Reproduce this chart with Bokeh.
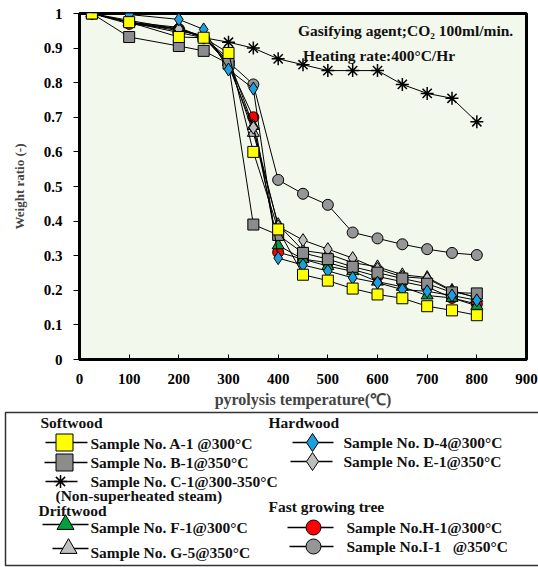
from bokeh.plotting import figure
from bokeh.layouts import column, row
from bokeh.models import Label, FixedTicker, CustomJSTickFormatter
from bokeh.core.properties import value
from bokeh.embed import file_html
from bokeh.resources import INLINE

# ---------------- data ----------------
temps = [25, 100, 200, 250, 300, 350, 400, 450, 500, 550, 600, 650, 700, 750, 800]

A1 = [1.0, 0.975, 0.932, 0.93, 0.886, 0.60, 0.376, 0.245, 0.228, 0.205, 0.188, 0.177, 0.154, 0.142, 0.128]
B1 = [1.0, 0.932, 0.906, 0.892, 0.855, 0.39, 0.36, 0.308, 0.29, 0.268, 0.251, 0.234, 0.219, 0.194, 0.191]
C1 = [1.0, 0.975, 0.945, 0.93, 0.917, 0.90, 0.869, 0.852, 0.835, 0.835, 0.835, 0.795, 0.769, 0.755, 0.687]
D4 = [1.0, 0.997, 0.983, 0.954, 0.838, 0.783, 0.293, 0.273, 0.256, 0.236, 0.222, 0.202, 0.197, 0.185, 0.171]
E1 = [1.0, 0.98, 0.955, 0.935, 0.85, 0.67, 0.385, 0.345, 0.319, 0.293, 0.262, 0.239, 0.234, 0.197, 0.18]
F1 = [1.0, 0.975, 0.96, 0.93, 0.87, 0.675, 0.33, 0.29, 0.27, 0.255, 0.225, 0.21, 0.185, 0.178, 0.155]
G5 = [1.0, 0.975, 0.95, 0.935, 0.86, 0.655, 0.39, 0.315, 0.305, 0.28, 0.268, 0.245, 0.237, 0.20, 0.178]
H1 = [1.0, 0.97, 0.955, 0.93, 0.855, 0.70, 0.31, 0.29, 0.28, 0.26, 0.24, 0.225, 0.21, 0.178, 0.16]
I1 = [1.0, 0.975, 0.955, 0.93, 0.86, 0.795, 0.519, 0.479, 0.447, 0.367, 0.350, 0.333, 0.319, 0.308, 0.302]

x_ticks = [0, 100, 200, 300, 400, 500, 600, 700, 800, 900]
y_ticks = [0, 0.1, 0.2, 0.3, 0.4, 0.5, 0.6, 0.7, 0.8, 0.9, 1]

x_title = "pyrolysis temperature(\u2103)"
y_title = "Weight ratio (-)"
note1 = "Gasifying agent;CO\u2082 100ml/min."
note2 = "Heating rate:400\u00b0C/Hr"

group_titles = ["Softwood", "Driftwood", "Hardwood", "Fast growing tree"]
labels = {
    "A1": "Sample No. A-1 @300\u00b0C",
    "B1": "Sample No. B-1@350\u00b0C",
    "C1": "Sample No. C-1@300-350\u00b0C",
    "D4": "Sample No. D-4@300\u00b0C",
    "E1": "Sample No. E-1@350\u00b0C",
    "F1": "Sample No. F-1@300\u00b0C",
    "G5": "Sample No. G-5@350\u00b0C",
    "H1": "Sample No.H-1@300\u00b0C",
    "I1": "Sample No.I-1\u00a0\u00a0\u00a0@350\u00b0C",
}
c1_note = "(Non-superheated steam)"

FONT = "Liberation Serif"

# series: (key, values, marker, fill, size in plot)
series = [
    ("C1", C1, "asterisk", "black", 13),
    ("I1", I1, "circle", "#969696", 11),
    ("H1", H1, "circle", "#FF0000", 11),
    ("G5", G5, "triangle", "#C0C0C0", 12),
    ("F1", F1, "triangle", "#00A040", 12),
    ("E1", E1, "diamond", "#BEBEBE", 13),
    ("B1", B1, "square", "#8C8C8C", 11),
    ("D4", D4, "diamond", "#1AA0E0", 13),
    ("A1", A1, "square", "#FFFF00", 11),
]

# ---------------- main plot ----------------
p = figure(width=538, height=410, x_range=(0, 900), y_range=(0, 1),
           output_backend="svg", toolbar_location=None,
           min_border_left=79, min_border_right=12, min_border_top=13, min_border_bottom=46,
           background_fill_color="#F3F8EC", border_fill_color="white")
p.grid.visible = False
p.outline_line_color = "black"
p.outline_line_width = 3

for key, vals, mk, fill, sz in series:
    p.line(temps, vals, line_color="black", line_width=1)
    p.scatter(temps, vals, marker=mk, size=sz, fill_color=fill,
              line_color="black", line_width=1.5 if mk == "asterisk" else 1)

xa = p.xaxis[0]
xa.ticker = FixedTicker(ticks=x_ticks)
xa.minor_tick_line_color = None
xa.major_tick_in = 5
xa.major_tick_out = 0
xa.axis_line_width = 3
xa.major_label_standoff = 14
xa.major_label_text_font = FONT
xa.major_label_text_font_style = "bold"
xa.major_label_text_font_size = "15px"
xa.major_label_text_color = "black"
xa.axis_label = x_title
xa.axis_label_text_font = FONT
xa.axis_label_text_font_style = "bold"
xa.axis_label_text_font_size = "16px"
xa.axis_label_standoff = 4

ya = p.yaxis[0]
ya.ticker = FixedTicker(ticks=y_ticks)
ya.formatter = CustomJSTickFormatter(code="return (tick == 0 || tick == 1) ? tick.toFixed(0) : tick.toFixed(1);")
ya.minor_tick_line_color = None
ya.major_tick_in = 0
ya.major_tick_out = 6
ya.axis_line_width = 3
ya.major_label_standoff = 11
ya.major_label_text_font = FONT
ya.major_label_text_font_style = "bold"
ya.major_label_text_font_size = "15px"
ya.major_label_text_color = "black"
ya.axis_label = y_title
ya.axis_label_text_font = FONT
ya.axis_label_text_font_style = "bold"
ya.axis_label_text_font_size = "13px"
ya.axis_label_standoff = 14

for txt, xx, yy in [(note1, 440, 0.952), (note2, 450, 0.880)]:
    p.add_layout(Label(x=xx, y=yy, text=txt, text_font=FONT, text_font_style="bold",
                       text_font_size="15.5px", text_baseline="middle", text_color="#111111"))

# ---------------- legend panel ----------------
L = figure(width=538, height=157, x_range=(0, 538), y_range=(157, 0),
           output_backend="svg", toolbar_location=None, min_border=0,
           min_border_left=0, min_border_right=0, min_border_top=0, min_border_bottom=0,
           x_axis_location=None, y_axis_location=None, outline_line_color=None,
           background_fill_color="white", border_fill_color="white")
L.grid.visible = False
L.quad(left=[5], right=[545], top=[2], bottom=[155], fill_color=None,
       line_color="#333333", line_width=1.5)

# legend layout: key -> (line x0, x1, marker x, y, text x, text y, marker size)
leg_pos = {
    "A1": (45, 87, 64, 32, 90, 33, 17),
    "B1": (44, 87, 64, 52, 90, 52, 17),
    "C1": (45, 77, 60, 71, 90, 71, 13),
    "F1": (42, 88, 65, 114, 90, 117, 17),
    "G5": (52, 88, 68, 138, 90, 142, 17),
    "D4": (292, 333, 312, 32, 343, 32, 18),
    "E1": (290, 332, 312, 51, 343, 51, 18),
    "H1": (287, 333, 313, 117, 346, 117, 15),
    "I1": (289, 333, 313, 136, 346, 136, 15),
}
style = {k: (mk, fill) for k, _, mk, fill, _ in series}
for k, (x0, x1, mx, my, tx, ty, ms) in leg_pos.items():
    mk, fill = style[k]
    L.line([x0, x1], [my, my], line_color="black", line_width=1.5)
    L.scatter([mx], [my], marker=mk, size=ms, fill_color=fill, line_color="black",
              line_width=1.5 if mk == "asterisk" else 1)
    L.text([tx], [ty], text=[labels[k]], text_font=value(FONT), text_font_style="bold",
           text_font_size="15.5px", text_baseline="middle", text_color="#111111")

L.text([55], [85], text=[c1_note], text_font=value(FONT), text_font_style="bold",
       text_font_size="15.5px", text_baseline="middle", text_color="#111111")
L.text([40, 38, 268, 268], [12, 100, 12, 96], text=group_titles, text_font=value(FONT),
       text_font_style="bold", text_font_size="15.5px", text_baseline="middle",
       text_color="#111111")

layout = column(p, row(L, spacing=0), spacing=0)
open("out.html", "w").write(file_html(layout, INLINE))
